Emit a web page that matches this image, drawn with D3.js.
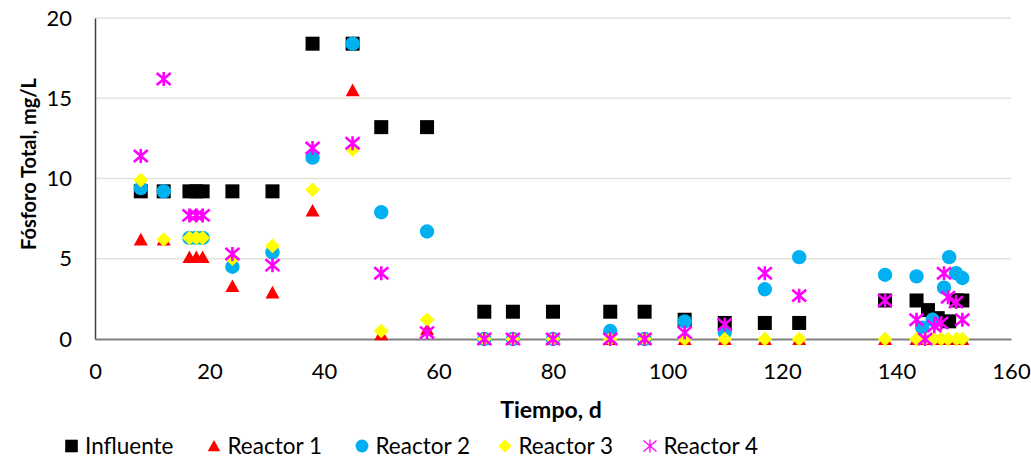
<!DOCTYPE html>
<html><head><meta charset="utf-8">
<script src="https://cdn.jsdelivr.net/npm/d3@7/dist/d3.min.js"></script>
<style>
body{margin:0;background:#fff;}
text{font-family:Lato,"Open Sans",sans-serif;fill:#000;}
</style></head>
<body><svg id="c" width="1031" height="459"></svg>
<script>
const seriesNames = ["Influente","Reactor 1","Reactor 2","Reactor 3","Reactor 4"];
const xTicks = [0,20,40,60,80,100,120,140,160];
const yTicks = [0,5,10,15,20];
const influente = [[8,9.2],[12,9.2],[16.5,9.2],[17.7,9.2],[18.8,9.2],[24,9.2],[31,9.2],[38,18.4],[45,18.4],[50,13.2],[58,13.2],[68,1.7],[73,1.7],[80,1.7],[90,1.7],[96,1.7],[103,1.2],[110,1.0],[117,1.0],[123,1.0],[138,2.4],[143.5,2.4],[145.5,1.8],[147.2,1.3],[149.2,1.1],[150.5,2.4],[151.5,2.4]];
const reactor1 = [[8,6.2],[12,6.2],[16.5,5.1],[17.7,5.1],[18.8,5.1],[24,3.3],[31,2.9],[38,8.0],[45,15.5],[50,0.3],[58,0.6],[68,0],[73,0],[80,0],[90,0],[96,0],[103,0],[110,0],[117,0],[123,0],[138,0],[143.5,0],[145,0],[146.5,0],[147.8,0],[149,0],[150.5,0],[151.5,0]];
const reactor2 = [[8,9.4],[12,9.2],[16.5,6.3],[17.7,6.3],[18.8,6.3],[24,4.5],[31,5.4],[38,11.3],[45,18.4],[50,7.9],[58,6.7],[68,0],[73,0],[80,0],[90,0.5],[96,0],[103,1.1],[110,0.4],[117,3.1],[123,5.1],[138,4.0],[143.5,3.9],[144.5,0.7],[146.3,1.2],[148.3,3.2],[149.2,5.1],[150.4,4.1],[151.5,3.8]];
const reactor3 = [[8,9.9],[12,6.2],[16.5,6.3],[17.7,6.3],[18.8,6.3],[24,5.0],[31,5.8],[38,9.3],[45,11.8],[50,0.5],[58,1.2],[68,0],[73,0],[80,0],[90,0],[96,0],[103,0],[110,0],[117,0],[123,0],[138,0],[143.5,0],[145,0],[146.5,0],[147.8,0],[149,0],[150.5,0],[151.5,0]];
const reactor4 = [[8,11.4],[12,16.2],[16.5,7.7],[17.7,7.7],[18.8,7.7],[24,5.3],[31,4.6],[38,11.9],[45,12.2],[50,4.1],[58,0.4],[68,0],[73,0],[80,0],[90,0],[96,0],[103,0.4],[110,0.9],[117,4.1],[123,2.7],[138,2.4],[143.5,1.2],[145,0],[146.6,0.8],[147.8,1.0],[148.3,4.1],[149,2.6],[150.4,2.3],[151.5,1.2]];
const colors = ["#000000","#ff0000","#00b0f0","#ffff00","#ff00ff"];

const svg = d3.select("#c");
const L=95,R=1011,T=18,B=339;
const x = d3.scaleLinear().domain([0,160]).range([L,R]);
const y = d3.scaleLinear().domain([0,20]).range([B,T]);

// gridlines
svg.append("g").selectAll("line").data(yTicks.filter(d=>d>0)).join("line")
  .attr("x1",L).attr("x2",R).attr("y1",d=>y(d)).attr("y2",d=>y(d))
  .attr("stroke","#e3e3da").attr("stroke-width",1.3);

// axes
const yAxis = svg.append("g").attr("transform",`translate(${L},0)`)
  .call(d3.axisLeft(y).tickValues(yTicks).tickSize(0).tickPadding(23));
yAxis.select(".domain").attr("stroke","#404040").attr("stroke-width",1.5);
yAxis.selectAll("text").style("font-size","22px").attr("font-family","Lato").attr("fill","#222");
const xAxis = svg.append("g").attr("transform",`translate(0,${B})`)
  .call(d3.axisBottom(x).tickValues(xTicks).tickSize(0).tickPadding(24));
xAxis.select(".domain").attr("stroke","#808080").attr("stroke-width",1.8);
xAxis.selectAll("text").style("font-size","22px").attr("font-family","Lato").attr("fill","#222");

// marker paths
function markerPath(i, s){
  switch(i){
    case 0: return `M${-s},${-s}H${s}V${s}H${-s}Z`;
    case 1: return `M0,${-s*0.95}L${s},${s*0.85}H${-s}Z`;
    case 2: return d3.symbol(d3.symbolCircle, Math.PI*s*s*1.05)();
    case 3: return `M0,${-s*1.05}L${s*1.05},0L0,${s*1.05}L${-s*1.05},0Z`;
    case 4: return `M${-s},${-s*0.85}L${s},${s*0.85}M${-s},${s*0.85}L${s},${-s*0.85}M0,${-s}V${s}`;
  }
}
const data = [influente,reactor1,reactor2,reactor3,reactor4];
data.forEach((ser,i)=>{
  const g = svg.append("g");
  g.selectAll("path").data(ser).join("path")
    .attr("transform",d=>`translate(${x(d[0])},${y(d[1])})`)
    .attr("d",markerPath(i,7))
    .attr("fill",i===4?"none":colors[i])
    .attr("stroke",i===4?colors[i]:"none")
    .attr("stroke-width",2.6);
});

// axis titles
svg.append("text").attr("x",551).attr("y",418).attr("text-anchor","middle")
  .style("font-size","23px").style("font-weight","bold").text("Tiempo, d");
svg.append("text").attr("transform","translate(36,164) rotate(-90)").attr("text-anchor","middle")
  .style("font-size","20px").style("font-weight","bold").text("Fósforo Total, mg/L");

// legend
const legX = [71.5,214,362,505,650];
const lg = svg.append("g");
seriesNames.forEach((n,i)=>{
  const gg = lg.append("g").attr("transform",`translate(${legX[i]},446)`);
  gg.append("path").attr("d",markerPath(i,i===4?6.5:6.3))
    .attr("fill",i===4?"none":colors[i]).attr("stroke",i===4?colors[i]:"none").attr("stroke-width",1.3);
  gg.append("text").attr("x",13.5).attr("y",8).style("font-size","22.5px").attr("fill","#222").text(n);
});
</script></body></html>
